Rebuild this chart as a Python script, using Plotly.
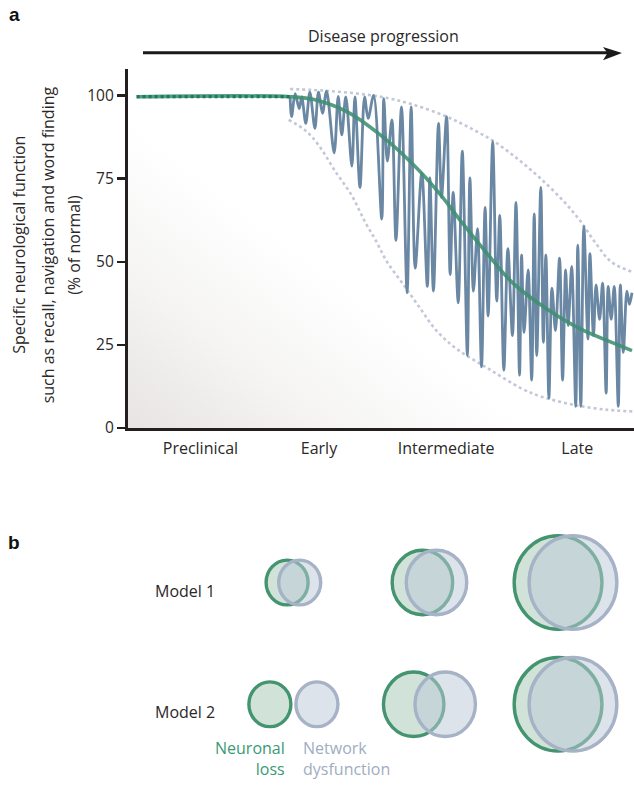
import base64
import plotly.graph_objects as go

W, H = 634, 790
FONT = "Open Sans"
TXT = "#2b2828"

# ---------------- Panel a data ----------------
stage_labels = ["Preclinical", "Early", "Intermediate", "Late"]
stage_label_pos = [14.4, 37.8, 62.9, 88.8]          # disease progression (0-100)
y_ticks = [0, 25, 50, 75, 100]

# neuronal loss (smooth decline), % of normal
neuronal_x = [1.8, 32.1, 36.6, 43.3, 49.9, 56.4, 61.7, 66.2, 71.0, 76.1, 82.8, 89.3, 97.2, 99.6]
neuronal_y = [99.7, 99.7, 98.9, 95.2, 88.2, 79.3, 70.4, 61.5, 52.5, 43.6, 35.8, 29.9, 24.8, 23.3]

preclinical_x = [1.8, 32.1]
preclinical_y = [99.7, 99.7]

# network dysfunction (fluctuating function), % of normal
network_x = [32.1, 32.4, 33.1, 33.9, 34.4, 35.2, 36.0, 37.0, 37.7, 38.5,
             39.3, 40.8, 41.6, 42.3, 43.1, 44.3, 44.9, 45.9, 46.8, 47.5,
             48.6, 50.2, 50.6, 51.3, 52.2, 53.0, 54.1, 55.2, 56.0, 56.8,
             58.1, 59.2, 59.7, 60.4, 61.4, 62.0, 63.0, 63.7, 64.3, 65.3,
             66.1, 67.1, 67.6, 68.3, 69.1, 69.9, 70.6, 71.2, 72.1, 72.9,
             73.5, 74.3, 75.1, 76.0, 76.7, 77.4, 77.8, 78.3, 79.1, 79.8,
             80.3, 80.8, 81.6, 82.1, 82.6, 83.2, 83.8, 84.5, 85.3, 85.9,
             86.5, 87.0, 87.7, 88.5, 88.9, 89.5, 90.1, 90.9, 91.3, 92.0,
             92.5, 93.2, 93.8, 94.5, 94.9, 95.5, 96.1, 96.9, 97.3, 97.9,
             98.6, 99.1, 99.6]
network_y = [99.6, 93.7, 100.6, 96.1, 99.6, 91.7, 101.1, 90.2, 101.1, 94.7,
             101.4, 82.8, 99.8, 88.2, 99.6, 78.8, 99.6, 72.4, 99.6, 93.2,
             100.1, 62.9, 99.1, 80.3, 92.7, 56.5, 96.6, 40.7, 96.6, 48.1,
             76.8, 42.6, 75.3, 41.2, 91.7, 69.4, 93.7, 46.2, 70.9, 37.7,
             83.3, 21.8, 75.3, 41.2, 60.0, 18.4, 66.4, 33.7, 86.2, 38.2,
             64.0, 17.4, 54.0, 27.8, 67.9, 15.9, 52.1, 28.8, 47.6, 14.4,
             64.4, 21.8, 72.4, 25.8, 52.1, 9.0, 42.1, 29.3, 51.1, 14.4,
             47.6, 30.8, 48.6, 6.5, 55.0, 6.5, 60.7, 26.8, 52.5, 27.8,
             43.1, 32.7, 43.6, 10.5, 42.6, 32.7, 42.6, 6.5, 43.1, 22.8,
             41.2, 37.2, 40.7]

# range envelopes
upper_x = [32.1, 40.0, 49.9, 56.0, 63.0, 68.0, 72.3, 77.0, 81.4, 86.0, 89.3, 92.5, 95.5, 99.6]
upper_y = [102.0, 101.4, 99.7, 97.5, 93.7, 90.0, 86.3, 81.0, 75.3, 68.4, 62.5, 55.5, 50.0, 47.0]
lower_x = [31.8, 35.0, 37.7, 41.0, 44.3, 46.9, 49.0, 51.2, 54.5, 57.7, 61.0, 65.0, 71.2, 77.8, 81.6, 88.0, 94.6, 99.9]
lower_y = [92.7, 89.7, 85.2, 77.3, 69.9, 62.0, 56.5, 50.1, 43.1, 36.2, 29.3, 23.8, 17.9, 11.9, 9.5, 7.0, 5.5, 5.0]

# ---------------- Panel b data ----------------
stages = [1, 2, 3]                       # early, intermediate, late
model_labels = ["Model 1", "Model 2"]
model_rows = [1, 2]
neuronal_loss_size = {1: [1.0, 1.44, 2.09], 2: [1.0, 1.44, 2.09]}
network_dysf_size = {1: [1.0, 1.44, 2.09], 2: [1.0, 1.44, 2.09]}
separation = {1: [0.60, 0.67, 0.71], 2: [2.24, 1.50, 0.71]}

# ---------------- styling ----------------
GREEN = "#3d8f71"
BLUE = "#6a87a3"
ENV = "#c3c8d8"
C_GREEN_LINE = "#43946f"
C_GREEN_FILL = "rgba(163,199,178,0.5)"
C_BLUE_LINE = "#a6b2c6"
C_BLUE_FILL = "rgba(187,199,215,0.5)"
UNIT_PX = 21.0
ASPECT_Y = 1.065


def px(xp, yp):
    return xp / W, 1 - yp / H


fig = go.Figure()

for xs, ys in [(upper_x, upper_y), (lower_x, lower_y)]:
    fig.add_trace(go.Scatter(x=xs, y=ys, mode="lines", hoverinfo="skip",
                             line=dict(color=ENV, width=2.6, dash="3px,3px", shape="spline")))

fig.add_trace(go.Scatter(x=network_x, y=network_y, mode="lines", hoverinfo="skip",
                         line=dict(color=BLUE, width=2.8, shape="spline", smoothing=0.9)))
fig.add_trace(go.Scatter(x=neuronal_x, y=neuronal_y, mode="lines", hoverinfo="skip", opacity=0.88,
                         line=dict(color=GREEN, width=3.6, shape="spline")))
fig.add_trace(go.Scatter(x=preclinical_x, y=preclinical_y, mode="lines", hoverinfo="skip",
                         line=dict(color="#1d7a60", width=3.2, dash="3px,3px")))

# ---------------- gradient backdrop ----------------
gw, gh = 507, 364
svg = (f'<svg xmlns="http://www.w3.org/2000/svg" width="{gw}" height="{gh}" viewBox="0 0 {gw} {gh}" '
       f'preserveAspectRatio="none"><defs><linearGradient id="g" gradientUnits="userSpaceOnUse" '
       f'x1="0" y1="{gh}" x2="150" y2="170">'
       '<stop offset="0" stop-color="#e7e4e3"/><stop offset="0.5" stop-color="#f5f4f3"/>'
       '<stop offset="1" stop-color="#ffffff"/></linearGradient></defs>'
       f'<rect width="{gw}" height="{gh}" fill="url(#g)"/></svg>')
src = "data:image/svg+xml;base64," + base64.b64encode(svg.encode()).decode()
x0p, y0p = px(127.5, 70)
fig.add_layout_image(dict(source=src, xref="paper", yref="paper", x=x0p, y=y0p,
                          sizex=(W - 127.5) / W, sizey=(433.5 - 70) / H,
                          xanchor="left", yanchor="top", sizing="stretch", layer="below"))

# ---------------- circles (panel b) ----------------
shapes = []
for m in model_rows:
    for i, s in enumerate(stages):
        sep = separation[m][i] * UNIT_PX
        for size, off, lc, fc in [(neuronal_loss_size[m][i], -sep / 2, C_GREEN_LINE, C_GREEN_FILL),
                                  (network_dysf_size[m][i], sep / 2, C_BLUE_LINE, C_BLUE_FILL)]:
            r = size * UNIT_PX
            shapes.append(dict(type="circle", xref="x2", yref="y2",
                               xsizemode="pixel", ysizemode="pixel",
                               xanchor=s, yanchor=m,
                               x0=off - r, x1=off + r,
                               y0=-r * ASPECT_Y, y1=r * ASPECT_Y,
                               line=dict(color=lc, width=3.4), fillcolor=fc, layer="above"))

# arrow (disease progression)
ax0, ay = px(143, 53.5)
ax1, _ = px(609, 53.5)
shapes.append(dict(type="line", xref="paper", yref="paper", x0=ax0, x1=ax1, y0=ay, y1=ay,
                   line=dict(color="#1a1a1a", width=3)))
tip = px(622, 53.8)
b1 = px(603, 47.5)
bm = px(607.5, 53.8)
b2 = px(603, 61.0)
shapes.append(dict(type="path", xref="paper", yref="paper",
                   path=f"M{tip[0]},{tip[1]} L{b1[0]},{b1[1]} L{bm[0]},{bm[1]} L{b2[0]},{b2[1]} Z",
                   fillcolor="#1a1a1a", line=dict(width=0)))

# ---------------- annotations ----------------
ann = []


def add_text(text, xp, yp, size=16, color=TXT, xanchor="center", yanchor="middle", angle=0,
             family=FONT, align="center"):
    x, y = px(xp, yp)
    ann.append(dict(text=text, x=x, y=y, xref="paper", yref="paper", showarrow=False,
                    xanchor=xanchor, yanchor=yanchor, textangle=angle, align=align,
                    font=dict(family=family, size=size, color=color)))


add_text("<b>a</b>", 14, 15, size=19, family="Liberation Sans", color="#111")
add_text("<b>b</b>", 14, 549, size=19, family="Liberation Sans", color="#111")
add_text("Disease progression", 383, 36, size=16)
add_text("Specific neurological function", 19, 248, size=16, angle=-90)
add_text("such as recall, navigation and word finding", 47.5, 248, size=16, angle=-90)
add_text("(% of normal)", 74, 248, size=16, angle=-90)

for lbl, row in zip(model_labels, model_rows):
    ann.append(dict(text=lbl, x=185 / W, y=row, xref="paper", yref="y2", yshift=-8,
                    showarrow=False, xanchor="center", yanchor="middle",
                    font=dict(family=FONT, size=16, color=TXT)))

add_text("Neuronal<br>loss", 287, 768, size=16, color="#3a9a74", xanchor="right", align="right")
add_text("Network<br>dysfunction", 301, 768, size=16, color="#a0adc1", xanchor="left", align="left")

fig.update_layout(
    width=W, height=H, margin=dict(l=0, r=0, t=0, b=0),
    paper_bgcolor="white", plot_bgcolor="rgba(0,0,0,0)",
    showlegend=False, shapes=shapes, annotations=ann,
    font=dict(family=FONT, size=16, color=TXT),
    xaxis=dict(domain=[127.5 / W, 1], range=[0, 100], showgrid=False, zeroline=False,
               showline=True, linecolor="#231f20", linewidth=2.6,
               tickmode="array", tickvals=stage_label_pos, ticktext=stage_labels,
               ticks="outside", ticklen=4, tickcolor="rgba(0,0,0,0)",
               tickfont=dict(family=FONT, size=16, color=TXT), fixedrange=True),
    yaxis=dict(domain=[1 - 433.5 / H, 1 - 70 / H], range=[0, 108], showgrid=False, zeroline=False,
               showline=True, linecolor="#231f20", linewidth=2.6,
               tickmode="array", tickvals=y_ticks, ticks="outside", ticklen=8, tickwidth=2.6,
               tickcolor="#231f20", tickfont=dict(family=FONT, size=15.5, color=TXT), fixedrange=True),
    xaxis2=dict(domain=[0, 1], range=[-1.1566, 3.5035], anchor="y2", visible=False, fixedrange=True),
    yaxis2=dict(domain=[0, 0.33], range=[2.622, 0.508], anchor="x2", visible=False, fixedrange=True),
)

PAGE_FIX = (
    "var d=document.documentElement,b=document.body;"
    "[d,b].forEach(function(e){e.style.margin='0';e.style.padding='0';"
    "e.style.height='790px';e.style.width='634px';e.style.overflow='hidden';});"
    "document.querySelectorAll('.svg-container').forEach(function(e){e.style.display='block';});"
)

fig.write_html("out.html", config={"displayModeBar": False, "staticPlot": True}, post_script=PAGE_FIX)
